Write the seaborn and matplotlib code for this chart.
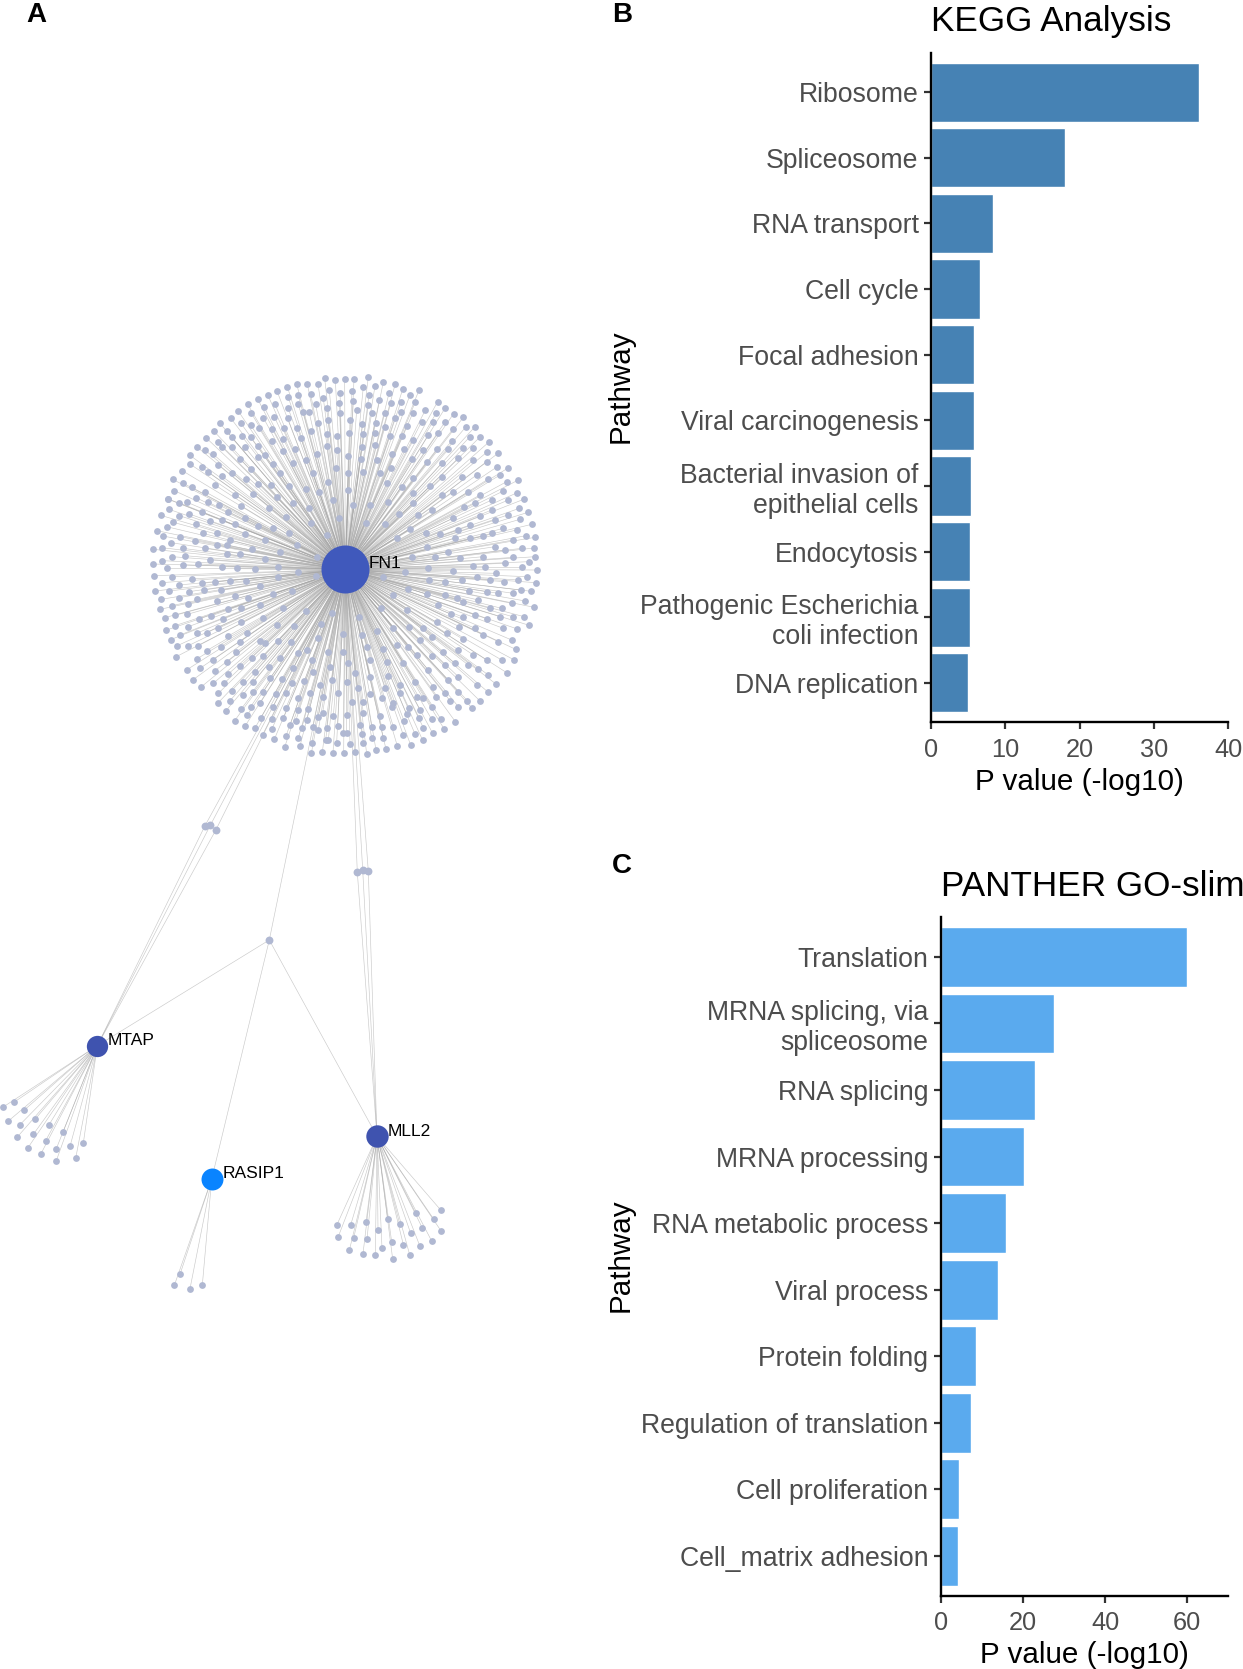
import matplotlib
matplotlib.use("Agg")
import matplotlib.pyplot as plt
import seaborn as sns
from matplotlib.collections import LineCollection

# Panel B data
kegg_terms = ["Ribosome", "Spliceosome", "RNA transport", "Cell cycle", "Focal adhesion",
              "Viral carcinogenesis", "Bacterial invasion of\nepithelial cells", "Endocytosis",
              "Pathogenic Escherichia\ncoli infection", "DNA replication"]
kegg_values = [36.1, 18.0, 8.4, 6.6, 5.8, 5.8, 5.4, 5.2, 5.2, 4.95]
kegg_ticks = [0, 10, 20, 30, 40]

# Panel C data
go_terms = ["Translation", "MRNA splicing, via\nspliceosome", "RNA splicing", "MRNA processing",
            "RNA metabolic process", "Viral process", "Protein folding", "Regulation of translation",
            "Cell proliferation", "Cell_matrix adhesion"]
go_values = [59.9, 27.5, 23.0, 20.3, 15.8, 14.0, 8.6, 7.3, 4.3, 4.2]
go_ticks = [0, 20, 40, 60]

# Panel A data: network layout
hub_names = ["FN1", "MTAP", "RASIP1", "MLL2"]
hub_x = [345.3, 97.3, 211.7, 377.0]
hub_y = [569.3, 1045.7, 1179.0, 1136.3]
hub_label_x = [369, 108, 223, 388]
hub_label_y = [563, 1040, 1173, 1131]

link_a = [(205.0, 825.7), (210.3, 825.3), (216.0, 829.7)]   # FN1 - MTAP
link_b = [(357.3, 872.3), (362.7, 870.0), (368.3, 871.0)]   # FN1 - MLL2
link_c = (269.3, 940.0)                                      # FN1, MTAP, RASIP1, MLL2

mtap_leaves = [(8,982),(43,966),(72,991),(24,1024),(59,1035),(106,1017),(146,1036),(52,1071),(100,1063),
               (189,1056),(137,1082),(84,1103),(123,1121),(169,1106),(210,1099),(250,1089),(169,1142),(227,1135)]
rasip1_leaves = [(540,1483),(523,1516),(570,1526),(607,1515)]
mll2_leaves = [(1323,1291),(1301,1317),(1247,1299),(1163,1317),(1199,1331),(1098,1327),(1052,1335),(1010,1336),
               (1134,1349),(1267,1344),(1324,1354),(1232,1360),(1014,1372),(1061,1374),(1101,1378),(1175,1385),
               (1295,1383),(1210,1394),(1260,1399),(1048,1411),(1089,1421),(1146,1404),(1126,1425),(1229,1424),(1178,1437)]

fn1_leaves = [
    (584,54),(616,60),(644,58),(672,58),(715,50),(760,66),(796,71),(818,88),(867,91),(923,125),(946,143),(971,161),
    (1000,172),(1035,200),(1050,231),(1078,245),(1104,280),(1134,324),(1165,360),(1162,398),(1181,418),(1194,457),
    (1205,493),(1215,532),(1212,564),(1216,590),(1220,630),(1218,668),(1204,694),(1186,723),(1213,742),(1198,796),
    (1182,770),(1162,807),(1157,868),(1151,899),(1130,938),(1098,972),(1075,997),(1050,1023),(1027,1045),(976,1085),
    (942,1106),(908,1120),(878,1141),(842,1155),(802,1158),(768,1168),(738,1170),(710,1182),(674,1177),(641,1180),
    (609,1178),(577,1176),(544,1180),(510,1158),(464,1161),(433,1138),(398,1124),(375,1104),(346,1097),(314,1082),
    (288,1052),(263,1030),(212,982),(188,960),(171,929),(139,890),(142,857),(122,839),(107,811),(104,773),(90,748),
    (93,718),(75,693),(73,647),(68,612),(70,568),(80,512),(92,466),(113,417),(133,392),(128,358),(157,332),(180,286),
    (200,260),(228,233),(252,214),(269,189),(302,174),(324,152),(353,133),(383,117),(413,104),(441,93),(472,80),
    (500,72),(532,72),(564,72),
    (505,106),(542,103),(598,91),(630,98),(666,92),(700,80),(735,78),(717,105),(777,100),(748,120),(782,130),(812,127),
    (840,105),(856,126),(475,112),(435,133),(403,142),(363,158),(580,115),(628,128),(670,122),
    (474,143),(505,133),(557,132),(590,145),(630,158),(680,150),(715,135),(764,160),(812,155),(848,160),(886,150),
    (918,160),(333,190),(400,173),(433,170),(473,175),(520,157),(537,155),(725,160),(795,173),(875,185),
    (362,195),(388,205),(427,207),(461,205),(502,203),(565,188),(595,180),(660,180),(697,193),(737,188),(765,200),
    (830,198),(908,186),(945,186),(968,208),(1008,200),
    (290,214),(335,228),(305,232),(263,245),(362,232),(425,243),(385,258),(460,237),(513,235),(543,212),(590,222),
    (622,228),(658,218),(700,222),(735,218),(780,228),(815,228),(850,240),(895,225),(925,218),(965,243),(1020,230),
    (1000,265),(1030,265),
    (225,270),(250,283),(277,262),(305,262),(345,262),(385,290),(405,285),(460,272),(495,268),(560,283),(590,258),
    (620,270),(655,288),(695,260),(735,255),(785,283),(822,267),(878,270),(920,268),(955,268),(1070,277),
    (180,312),(215,322),(265,315),(235,337),(307,338),(330,297),(363,326),(430,312),(488,308),(528,300),(617,325),
    (692,298),(740,300),(783,325),(845,298),(890,305),(935,310),(985,295),(1030,300),(1070,305),(1102,320),
    (160,370),(185,382),(225,395),(255,375),(275,348),(348,357),(385,372),(423,374),(450,340),(478,378),(548,338),
    (595,365),(655,340),(700,335),(750,340),(770,370),(815,380),(850,355),(900,378),(935,352),(995,350),(1040,345),
    (1075,357),(1110,345),(1130,365),
    (115,417),(147,428),(172,427),(198,413),(235,427),(267,435),(315,405),(370,403),(440,410),(488,430),(528,388),
    (568,395),(610,420),(655,390),(720,435),(775,425),(848,398),(850,430),(935,405),(968,395),(1015,395),(1050,405),
    (1085,420),(1120,393),(1135,420),
    (117,448),(148,467),(178,462),(215,455),(295,455),(333,437),(418,445),(468,470),(538,445),(627,475),(670,435),
    (707,490),(765,493),(808,462),(865,466),(905,450),(968,475),(1003,440),(1035,430),(1085,450),(1133,465),(1168,445),
    (110,500),(130,487),(197,492),(240,482),(275,480),(315,492),(345,475),(385,497),(430,505),(478,518),(543,490),
    (590,525),(840,508),(888,518),(930,522),(985,510),(1020,495),(1050,468),(1095,480),(1120,505),(1170,478),(1160,510),
    (98,528),(150,530),(123,548),(218,520),(262,520),(345,522),(405,540),(300,540),(195,542),(260,555),(225,565),
    (158,565),(95,563),(290,555),(365,568),(450,575),(500,555),(800,535),(890,560),(975,535),(1020,535),(1060,528),
    (1095,560),(1085,520),(1150,540),(1188,527),
    (125,590),(165,587),(205,612),(240,600),(275,620),(290,583),(330,582),(405,598),(445,620),(560,590),(845,590),
    (915,590),(955,575),(990,595),(1060,590),(1125,570),(1175,565),(1150,592),(1125,610),(1198,605),
    (97,602),(112,625),(160,615),(320,625),(375,628),(503,637),(558,648),(760,650),(825,635),(895,625),(968,632),
    (1028,618),(1066,620),(1098,640),(1175,622),
    (125,650),(185,657),(215,670),(255,665),(300,662),(348,662),(390,677),(445,650),(487,694),(430,702),(835,688),
    (898,660),(945,665),(995,660),(1040,652),(1080,660),(1122,665),(1165,660),(1190,650),
    (95,668),(118,693),(147,675),(177,695),(222,690),(273,690),(315,708),(355,715),(890,702),(945,705),(980,713),
    (1018,692),(1070,695),(1105,700),(1150,700),(1172,690),
    (147,713),(125,737),(173,733),(202,718),(260,722),(293,748),(333,743),(390,735),(460,745),(527,752),(605,760),
    (688,770),(752,745),(790,705),(830,750),(925,735),(1000,725),(1045,720),(1080,745),(1115,745),(1145,730),
    (135,766),(172,763),(207,776),(242,768),(280,777),(333,787),(400,773),(440,795),(493,797),(572,792),(640,822),
    (695,825),(742,813),(790,803),(838,800),(878,803),(920,787),(962,762),(1000,772),(1035,765),(1072,777),(1110,770),(1148,770),
    (135,797),(175,800),(150,825),(200,820),(230,818),(265,805),(295,828),(350,818),(390,842),(445,842),(483,845),
    (530,870),(565,835),(595,875),(640,875),(712,862),(760,868),(800,855),(835,860),(870,840),(905,830),(950,820),
    (988,800),(1035,805),(1060,825),(1105,845),(1145,840),(1120,805),
    (175,857),(205,857),(230,872),(272,860),(330,845),(318,877),(405,850),(365,893),(400,888),(450,895),(505,880),
    (545,900),(600,920),(655,910),(720,900),(770,905),(820,910),(860,885),(905,888),(940,875),(985,870),(1030,885),
    (1070,900),(1115,900),(1000,838),
    (200,897),(248,900),(292,905),(330,918),(375,935),(418,920),(490,925),(550,937),(605,960),(675,938),(720,950),
    (775,947),(810,975),(855,965),(895,930),(945,915),(975,910),(1015,915),(1045,928),(1075,945),
    (210,925),(255,932),(295,942),(340,965),(370,967),(420,955),(455,957),(485,970),(523,963),(570,975),(650,967),
    (683,985),(720,1003),(765,985),(810,1000),(860,1010),(910,980),(955,960),(985,950),(1040,975),
    (250,970),(282,970),(305,992),(338,1005),(368,995),(400,995),(437,1003),(467,1000),(505,1013),(540,1000),(580,1012),
    (625,1000),(665,1025),(700,1027),(755,1013),(790,1030),(837,1045),(880,1015),(918,1010),(945,1000),(985,995),(1012,1022),
    (265,1000),(300,1022),(333,1048),(362,1040),(390,1030),(428,1042),(468,1043),(505,1050),(535,1047),(578,1058),
    (610,1068),(652,1065),(700,1060),(750,1068),(785,1040),(830,1063),(870,1050),(905,1040),(960,1022),(985,1040),
    (352,1065),(393,1073),(427,1077),(460,1075),(497,1083),(530,1080),(565,1070),(640,1118),(690,1095),(725,1100),
    (755,1100),(790,1100),(822,1082),(868,1075),(905,1078),(933,1078),
    (480,1095),(515,1105),(548,1100),(590,1103),(623,1098),(565,1110),(595,1140),(650,1120),(695,1122),(725,1135),
    (760,1135),(820,1125),(855,1122),(880,1103),
    (425,1108),(468,1128),(505,1135),(545,1150),(587,1140),(620,1148),(660,1152),(700,1150),
]

W, H = 1243, 1669

sns.set_theme(style="white")
plt.rcParams["font.family"] = ["Liberation Sans", "DejaVu Sans"]

fig = plt.figure(figsize=(W / 100, H / 100), dpi=100)


def crop_to_full(points, ox, oy):
    return [(ox + px / 3, oy + py / 3) for px, py in points]


def box(left, top, right, bottom):
    return [left / W, 1 - bottom / H, (right - left) / W, (bottom - top) / H]


# Panel A, drawn in picture coordinates
net = fig.add_axes([0, 0, 1, 1])
net.set_xlim(0, W)
net.set_ylim(H, 0)
net.axis("off")

fn1 = (hub_x[0], hub_y[0])
mtap = (hub_x[1], hub_y[1])
rasip1 = (hub_x[2], hub_y[2])
mll2 = (hub_x[3], hub_y[3])

fn1_pts = crop_to_full(fn1_leaves, 130, 360)
mtap_pts = crop_to_full(mtap_leaves, 0, 780)
rasip1_pts = crop_to_full(rasip1_leaves, 0, 780)
mll2_pts = crop_to_full(mll2_leaves, 0, 780)

edges = [(fn1, p) for p in fn1_pts]
edges += [(mtap, p) for p in mtap_pts]
edges += [(rasip1, p) for p in rasip1_pts]
edges += [(mll2, p) for p in mll2_pts]
for p in link_a:
    edges += [(fn1, p), (mtap, p)]
for p in link_b:
    edges += [(fn1, p), (mll2, p)]
edges += [(fn1, link_c), (mtap, link_c), (rasip1, link_c), (mll2, link_c)]
net.add_collection(LineCollection(edges, colors="#a6a6a6", linewidths=0.45, alpha=0.6, zorder=1))

leaves = fn1_pts + mtap_pts + rasip1_pts + mll2_pts
sns.scatterplot(x=[p[0] for p in leaves], y=[p[1] for p in leaves], s=24, color="#B0B8D2",
                linewidth=0, ax=net, zorder=2)
links = link_a + link_b + [link_c]
sns.scatterplot(x=[p[0] for p in links], y=[p[1] for p in links], s=32, color="#B0B8D2",
                linewidth=0, ax=net, zorder=2)
hub_colors = ["#4059BC", "#3F53AF", "#0A84FF", "#3F53AF"]
hub_sizes = [1195, 235, 250, 260]
for i in range(4):
    sns.scatterplot(x=[hub_x[i]], y=[hub_y[i]], s=hub_sizes[i], color=hub_colors[i],
                    linewidth=0, ax=net, zorder=3)
    net.text(hub_label_x[i], hub_label_y[i], hub_names[i], fontsize=12.5, color="black",
             va="center", ha="left", zorder=4)


def bar_panel(terms, values, ticks, color, title, rect, xmax, title_y):
    ax = fig.add_axes(box(*rect))
    sns.barplot(x=values, y=terms, orient="h", color=color, saturation=1, width=0.9, ax=ax)
    ax.set_xlim(0, xmax)
    ax.set_ylim(9.6, -0.6)
    ax.set_xticks(ticks)
    ax.set_yticks(range(len(terms)))
    ax.set_yticklabels(terms, linespacing=1.2)
    ax.tick_params(axis="y", labelsize=19.2, labelcolor="#4d4d4d", color="#333333", length=5, width=1.6, pad=4, left=True)
    ax.tick_params(axis="x", labelsize=18.3, labelcolor="#4d4d4d", color="#333333", length=5, width=1.6, pad=6, bottom=True)
    sns.despine(ax=ax)
    for side in ["left", "bottom"]:
        ax.spines[side].set_color("black")
        ax.spines[side].set_linewidth(1.7)
    ax.set_xlabel("P value (-log10)", fontsize=21.3, color="black", labelpad=4.5)
    ax.set_ylabel("")
    fig.text(621 / W, 1 - ((rect[1] + rect[3]) / 2 - 1) / H, "Pathway", rotation=90, fontsize=21.3,
             color="black", ha="center", va="center")
    fig.text(rect[0] / W, 1 - title_y / H, title, fontsize=25.3, color="black", ha="left", va="center")
    return ax


bar_panel(kegg_terms, kegg_values, kegg_ticks, "#4682B4", "KEGG Analysis", (931, 52.7, 1228, 722.3), 40, 21)
bar_panel(go_terms, go_values, go_ticks, "#5AAAEE", "PANTHER GO-slim", (941, 917, 1228, 1595.7), 70, 886)

# panel letters
fig.text(36 / W, 1 - 15 / H, "A", fontsize=20, fontweight="bold", color="black", ha="center", va="center")
fig.text(622 / W, 1 - 15 / H, "B", fontsize=20, fontweight="bold", color="black", ha="center", va="center")
fig.text(622 / W, 1 - 866 / H, "C", fontsize=20, fontweight="bold", color="black", ha="center", va="center")

fig.savefig("out.png", dpi=100)
